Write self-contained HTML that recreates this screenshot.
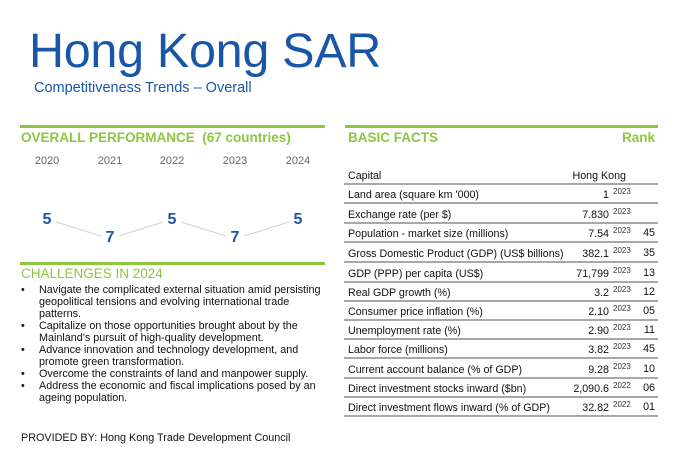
<!DOCTYPE html>
<html><head><meta charset="utf-8"><style>
*{margin:0;padding:0}
body{width:678px;height:458px;background:#fff;position:relative;overflow:hidden;font-family:"Liberation Sans",Arial,sans-serif}
.a{position:absolute;white-space:nowrap}
.g{background:#8dc63f;height:3px;position:absolute}
.hd{color:#8dc63f;font-weight:bold;font-size:13.5px}
.yr{color:#666;font-size:11px;width:40px;text-align:center}
.rk{color:#1f56a0;font-weight:bold;font-size:16px;width:20px;text-align:center}
.row{position:absolute;left:344px;width:314px;height:19px;border-bottom:2px solid #a8a8a8;font-size:10.7px;color:#111}
.row .l{position:absolute;left:4px;bottom:1px}
.row .v{position:absolute;right:49px;bottom:1px}
.row .s{position:absolute;left:269px;top:4px;font-size:8px;color:#333}
.row .r{position:absolute;right:3px;bottom:2px}
ul{position:absolute;left:20px;top:284px;width:310px;list-style:none;font-size:10.8px;line-height:12px;color:#111}
li{position:relative;padding-left:19px}
li:before{content:"•";position:absolute;left:1px}
</style></head><body>
<div class="a" style="left:29px;top:23px;font-size:48.5px;color:#1a56a8;letter-spacing:-0.3px">Hong Kong SAR</div>
<div class="a" style="left:34px;top:80px;font-size:14.5px;color:#1a56a8">Competitiveness Trends – Overall</div>

<div class="g" style="left:20px;top:125px;width:305px"></div>
<div class="a hd" style="left:21px;top:130px">OVERALL PERFORMANCE&nbsp; (67 countries)</div>
<div class="a yr" style="left:27px;top:155px">2020</div>
<div class="a yr" style="left:90px;top:155px">2021</div>
<div class="a yr" style="left:152px;top:155px">2022</div>
<div class="a yr" style="left:215px;top:155px">2023</div>
<div class="a yr" style="left:278px;top:155px">2024</div>
<svg class="a" style="left:0;top:0" width="340" height="260"><g stroke="#d4d0d4" stroke-width="1"><line x1="56" y1="222" x2="101" y2="236"/><line x1="119" y1="236" x2="163" y2="222"/><line x1="181" y1="222" x2="226" y2="236"/><line x1="244" y1="236" x2="289" y2="222"/></g></svg>
<div class="a rk" style="left:37px;top:211px">5</div>
<div class="a rk" style="left:100px;top:229px">7</div>
<div class="a rk" style="left:162px;top:211px">5</div>
<div class="a rk" style="left:225px;top:229px">7</div>
<div class="a rk" style="left:288px;top:211px">5</div>

<div class="g" style="left:20px;top:262px;width:305px"></div>
<div class="a" style="left:21px;top:266px;font-size:13.5px;color:#8dc63f">CHALLENGES IN 2024</div>
<ul>
<li>Navigate the complicated external situation amid persisting geopolitical tensions and evolving international trade patterns.</li>
<li>Capitalize on those opportunities brought about by the Mainland's pursuit of high-quality development.</li>
<li>Advance innovation and technology development, and promote green transformation.</li>
<li>Overcome the constraints of land and manpower supply.</li>
<li>Address the economic and fiscal implications posed by an ageing population.</li>
</ul>
<div class="a" style="left:21px;top:432px;font-size:10.8px;color:#111">PROVIDED BY: Hong Kong Trade Development Council</div>

<div class="g" style="left:345px;top:125px;width:313px"></div>
<div class="a hd" style="left:348px;top:130px">BASIC FACTS</div>
<div class="a hd" style="right:23px;top:130px">Rank</div>

<div class="row" style="top:164px"><span class="l">Capital</span><span class="v" style="right:32px">Hong Kong</span></div>
<div class="row" style="top:183px"><span class="l">Land area (square km '000)</span><span class="v">1</span><span class="s">2023</span></div>
<div class="row" style="top:203px"><span class="l">Exchange rate (per $)</span><span class="v">7.830</span><span class="s">2023</span></div>
<div class="row" style="top:222px"><span class="l">Population - market size (millions)</span><span class="v">7.54</span><span class="s">2023</span><span class="r">45</span></div>
<div class="row" style="top:242px"><span class="l">Gross Domestic Product (GDP) (US$ billions)</span><span class="v">382.1</span><span class="s">2023</span><span class="r">35</span></div>
<div class="row" style="top:262px"><span class="l">GDP (PPP) per capita (US$)</span><span class="v">71,799</span><span class="s">2023</span><span class="r">13</span></div>
<div class="row" style="top:281px"><span class="l">Real GDP growth (%)</span><span class="v">3.2</span><span class="s">2023</span><span class="r">12</span></div>
<div class="row" style="top:300px"><span class="l">Consumer price inflation (%)</span><span class="v">2.10</span><span class="s">2023</span><span class="r">05</span></div>
<div class="row" style="top:319px"><span class="l">Unemployment rate (%)</span><span class="v">2.90</span><span class="s">2023</span><span class="r">11</span></div>
<div class="row" style="top:338px"><span class="l">Labor force (millions)</span><span class="v">3.82</span><span class="s">2023</span><span class="r">45</span></div>
<div class="row" style="top:358px"><span class="l">Current account balance (% of GDP)</span><span class="v">9.28</span><span class="s">2023</span><span class="r">10</span></div>
<div class="row" style="top:377px"><span class="l">Direct investment stocks inward ($bn)</span><span class="v">2,090.6</span><span class="s">2022</span><span class="r">06</span></div>
<div class="row" style="top:396px"><span class="l">Direct investment flows inward (% of GDP)</span><span class="v">32.82</span><span class="s">2022</span><span class="r">01</span></div>
</body></html>
